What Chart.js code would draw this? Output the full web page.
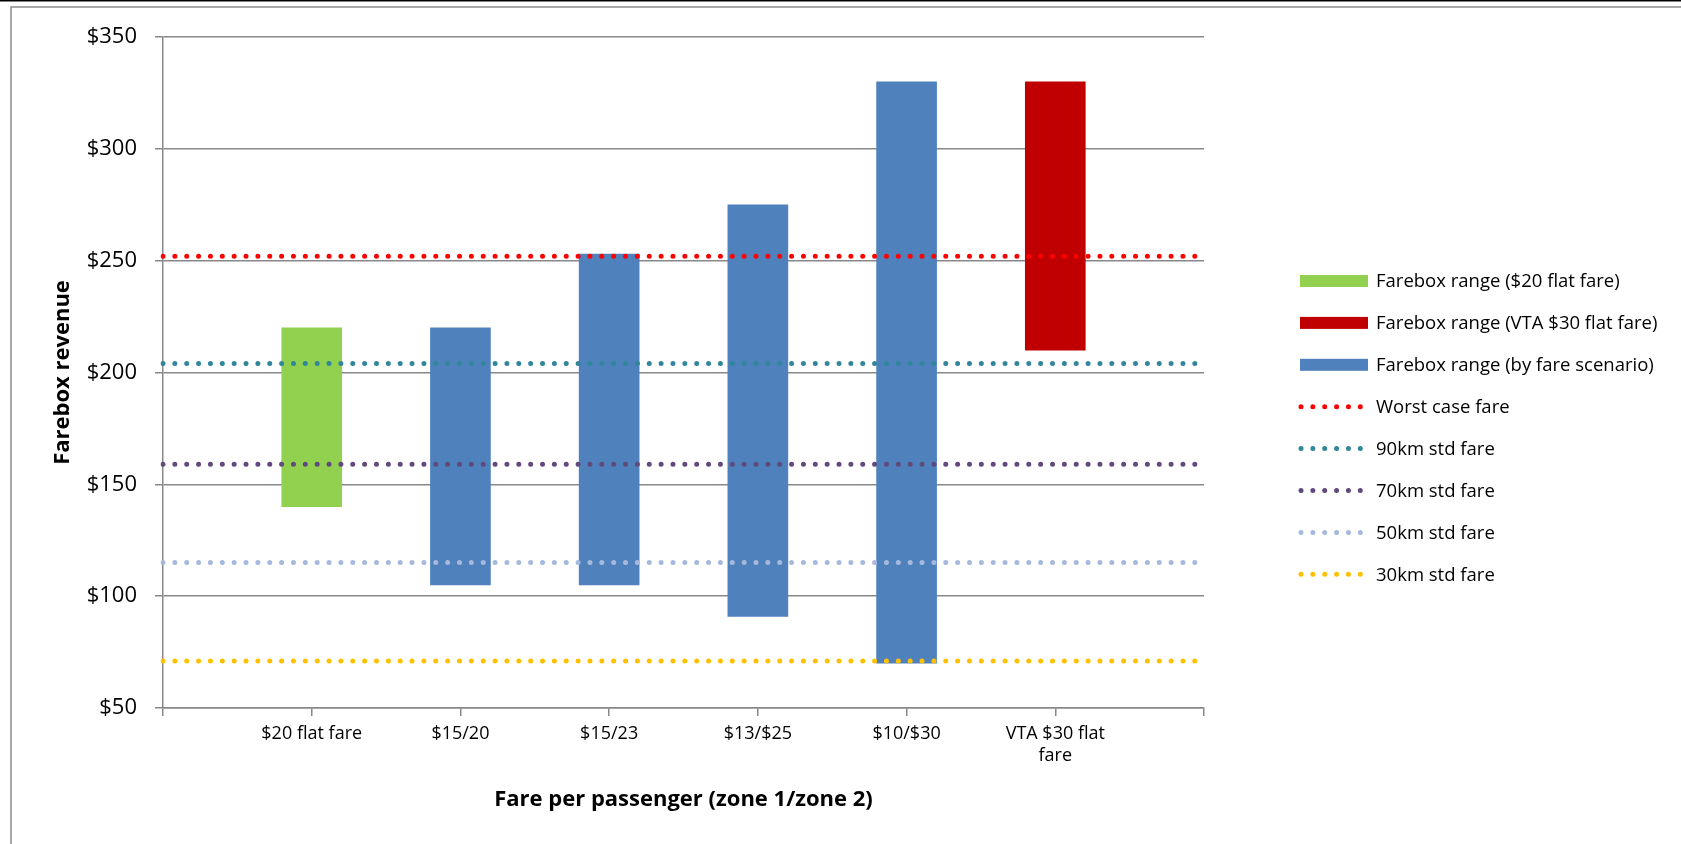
<!DOCTYPE html>
<html>
<head>
<meta charset="utf-8">
<title>Farebox revenue by fare scenario</title>
<script src="https://cdn.jsdelivr.net/npm/chart.js@4/dist/chart.umd.min.js"></script>
<style>
  html, body { margin: 0; padding: 0; background: #fff; }
  canvas { display: block; }
</style>
</head>
<body>
<canvas id="chart" width="1681" height="844"></canvas>
<script>
"use strict";

// ── Data ────────────────────────────────────────────────────
// first and last slots are empty, the axis is drawn "on tick marks"
const categories = ["", "$20 flat fare", "$15/20", "$15/23", "$13/$25", "$10/$30", ["VTA $30 flat", "fare"], ""];

const flatFareRange = [null, [140, 220], null, null, null, null, null, null];
const vtaFareRange = [null, null, null, null, null, null, [210, 330], null];
const scenarioRange = [null, null, [105, 220], [105, 253], [91, 275], [70, 330], null, null];

const worstCase = [252, 252, 252, 252, 252, 252, 252, 252];
const std90km = [204, 204, 204, 204, 204, 204, 204, 204];
const std70km = [159, 159, 159, 159, 159, 159, 159, 159];
const std50km = [115, 115, 115, 115, 115, 115, 115, 115];
const std30km = [71, 71, 71, 71, 71, 71, 71, 71];

const yTicks = [50, 100, 150, 200, 250, 300, 350];

// ── Look ────────────────────────────────────────────────────
const FONT = "'Open Sans', 'Noto Sans', sans-serif";
const GRID = "#888888";
const DOT_GAP = 11.86;

function rangeBar(label, data, color) {
    return {
        type: "bar", label, data,
        backgroundColor: color, borderWidth: 0,
        barThickness: 60, grouped: false, order: 1,
    };
}
function dottedLine(label, data, color) {
    return {
        type: "line", label, data,
        borderColor: color, backgroundColor: color,
        borderWidth: 5, borderDash: [0, DOT_GAP], borderCapStyle: "round",
        pointRadius: 0, tension: 0, fill: false, order: 0,
    };
}

// ── Page frame + legend drawn straight on the canvas ───────
const framePlugin = {
    id: "frame",
    beforeDraw(chart) {
        const { ctx, width, height } = chart;
        ctx.save();
        ctx.fillStyle = "#fff";
        ctx.fillRect(0, 0, width, height);
        ctx.strokeStyle = "#000";
        ctx.lineWidth = 1.5;
        ctx.beginPath(); ctx.moveTo(0, 0.75); ctx.lineTo(width, 0.75); ctx.stroke();
        ctx.strokeStyle = "#8a8a8a";
        ctx.lineWidth = 1.5;
        ctx.beginPath();
        ctx.moveTo(11, height); ctx.lineTo(11, 7); ctx.lineTo(width, 7);
        ctx.stroke();
        ctx.restore();
    },
};

const legendPlugin = {
    id: "sideLegend",
    afterDraw(chart) {
        const { ctx } = chart;
        const x0 = 1300, textX = 1376, y0 = 281, step = 41.9;
        ctx.save();
        ctx.font = `18.5px ${FONT}`;
        ctx.textBaseline = "middle";
        chart.data.datasets.forEach((ds, i) => {
            const cy = y0 + i * step;
            if (ds.type === "bar") {
                ctx.fillStyle = ds.backgroundColor;
                ctx.fillRect(x0, cy - 6, 68, 12);
            } else {
                ctx.strokeStyle = ds.borderColor;
                ctx.lineWidth = ds.borderWidth;
                ctx.lineCap = "round";
                ctx.setLineDash(ds.borderDash);
                ctx.beginPath();
                ctx.moveTo(x0 + 1, cy);
                ctx.lineTo(x0 + 1 + DOT_GAP * 5 + 1, cy);
                ctx.stroke();
                ctx.setLineDash([]);
            }
            ctx.fillStyle = "#000";
            ctx.fillText(ds.label, textX, cy + 1);
        });
        ctx.restore();
    },
};

// ── Chart ───────────────────────────────────────────────────
new Chart(document.getElementById("chart"), {
    data: {
        labels: categories,
        datasets: [
            rangeBar("Farebox range ($20 flat fare)", flatFareRange, "#92D050"),
            rangeBar("Farebox range (VTA $30 flat fare)", vtaFareRange, "#C00000"),
            rangeBar("Farebox range (by fare scenario)", scenarioRange, "#4F81BD"),
            dottedLine("Worst case fare", worstCase, "#FF0000"),
            dottedLine("90km std fare", std90km, "#31869B"),
            dottedLine("70km std fare", std70km, "#604A7B"),
            dottedLine("50km std fare", std50km, "#A6B9DC"),
            dottedLine("30km std fare", std30km, "#FFC000"),
        ],
    },
    options: {
        responsive: false,
        animation: false,
        layout: { padding: { left: 0, top: 37, right: 477, bottom: 0 } },
        plugins: {
            legend: { display: false },
            tooltip: { enabled: false },
        },
        scales: {
            x: {
                type: "category",
                offset: false,
                afterFit: (s) => { s.height = 136; },
                grid: {
                    offset: false, drawOnChartArea: false, drawTicks: true,
                    tickLength: 8, color: GRID, lineWidth: 1.5,
                },
                border: { color: GRID, width: 1.5 },
                ticks: {
                    autoSkip: false, maxRotation: 0, padding: 7,
                    color: "#000", font: { family: FONT, size: 18 },
                },
                title: {
                    display: true, text: "Fare per passenger (zone 1/zone 2)",
                    color: "#000", font: { family: FONT, size: 22, weight: "bold" },
                    padding: { top: 0, bottom: 31 },
                },
            },
            y: {
                min: 50, max: 350,
                afterFit: (s) => { s.width = 163; },
                afterBuildTicks: (s) => { s.ticks = yTicks.map((v) => ({ value: v })); },
                grid: { color: GRID, lineWidth: 1.5, tickLength: 8 },
                border: { color: GRID, width: 1.5 },
                ticks: {
                    padding: 18, color: "#000",
                    font: { family: FONT, size: 22 },
                    callback: (v) => "$" + v,
                },
                title: {
                    display: true, text: "Farebox revenue",
                    color: "#000", font: { family: FONT, size: 22, weight: "bold" },
                    padding: { top: 50, bottom: 0 },
                },
            },
        },
    },
    plugins: [framePlugin, legendPlugin],
});
</script>
</body>
</html>
